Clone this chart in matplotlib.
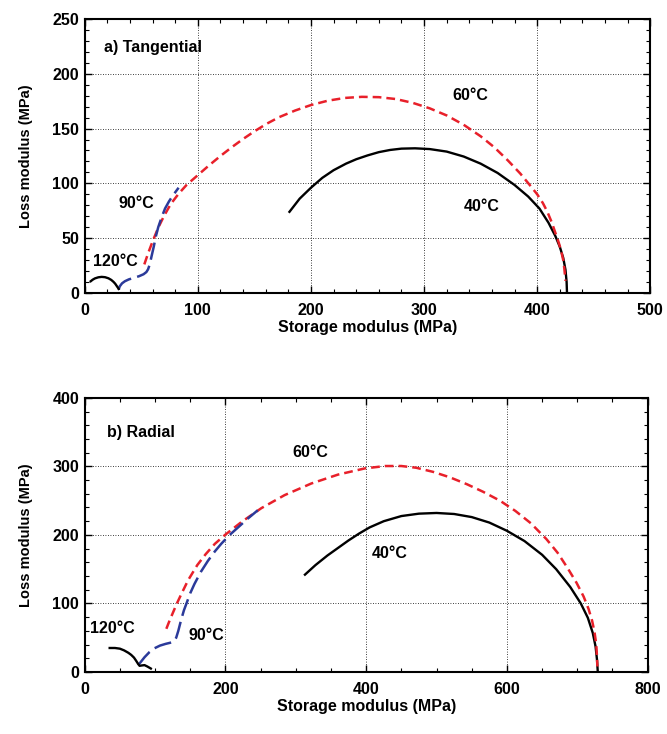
import matplotlib
matplotlib.use("Agg")
import matplotlib.pyplot as plt
from matplotlib.ticker import MultipleLocator

plt.rcParams['font.family'] = ['Liberation Sans', 'DejaVu Sans']
plt.rcParams['font.weight'] = 'bold'

# ---- Panel a) Tangential ----
a40_x = [181, 190, 200, 210, 220, 231, 240, 250, 260, 270, 280, 292, 305, 320, 335, 350, 365, 380, 392, 402, 410, 416, 420, 423, 425, 426, 426.3]
a40_y = [74, 86, 96, 105, 112, 118, 122, 125.5, 128.5, 130.5, 131.7, 132, 131.3, 129, 124.5, 118, 109.5, 98.5, 88, 77, 64, 52, 42, 32, 21, 10, 1]
a60_x = [52.7, 56, 60, 65, 70, 76, 83, 90, 100, 110, 120, 130, 140, 150, 161, 172, 186, 200, 215, 230, 245, 260, 275, 290, 305, 320, 335, 350, 362, 374, 385, 393, 400, 405, 409, 413, 416, 419, 421, 423, 424, 425]
a60_y = [26, 36, 47, 59.5, 70, 81, 90.5, 98.5, 107.5, 116.5, 125, 133, 140.5, 147.5, 154.5, 160.5, 166.5, 171.5, 175.5, 178, 179, 178.7, 177, 173.5, 168.5, 162, 153.5, 143, 133, 121, 109, 99, 90, 82, 74, 64, 55, 46, 39, 30, 22, 11]
a90_x = [30, 31, 33, 35.5, 39, 43, 48, 52, 54.5, 56, 57.5, 59, 61, 63, 65, 68, 71, 74.5, 78, 83]
a90_y = [3, 6, 8.7, 10.6, 12.3, 13.6, 15.2, 17, 19, 21.5, 26, 33, 42, 52, 60, 69, 77, 83.5, 89, 96]
a120_x = [5.3, 7, 9, 12, 15, 18, 21, 23.5, 25.5, 27, 28.5, 29.5, 30]
a120_y = [10.6, 12, 13.2, 14.2, 14.6, 14.3, 13.3, 11.8, 10, 8.3, 6, 4.5, 3.6]

# ---- Panel b) Radial ----
b40_x = [313, 328, 345, 360, 375, 390, 405, 425, 450, 475, 500, 525, 550, 575, 600, 625, 650, 670, 690, 705, 715, 722, 726, 728, 729]
b40_y = [142, 156, 170, 181, 192, 202, 211, 220, 227.5, 231, 232, 230.5, 226, 218, 206, 191, 171, 150, 124, 100, 79, 57, 37, 18, 2]
b60_x = [116, 121, 126, 131, 137, 147, 160, 172, 185, 200, 223, 251, 284, 322, 360, 398, 427, 450, 471, 495, 519, 543, 566, 590, 612, 634, 656, 672, 686, 699, 709, 716, 721, 724.5, 727, 728, 728.5]
b60_y = [63, 76, 88, 100, 113, 134, 156, 172, 187, 200.5, 219, 239, 258, 275, 288, 297, 300.5, 300.5, 298, 292, 284, 274, 263, 250, 235, 217, 194, 174, 152, 130, 110, 92, 75, 58, 40, 22, 8]
b90_x = [76, 80, 85, 92, 99, 107, 115, 123, 127, 130, 133, 137, 141, 145, 150, 156, 165, 175, 185, 194, 206, 218, 232, 246]
b90_y = [10, 15, 21.5, 29, 34.5, 38.5, 41, 43, 45, 50, 60, 76, 90, 101, 115, 128.5, 146, 162, 176, 187, 200, 211, 224, 236]
b120_x = [35.5, 43, 50, 56, 62, 66, 70, 73, 76, 78, 81, 85, 89, 94]
b120_y = [35, 35, 34, 31.5, 28, 25, 21, 16.5, 11.6, 9, 9.5, 10, 8, 5]

fig = plt.figure(figsize=(6.67, 7.34), dpi=100)
ax1 = fig.add_axes([0.127, 0.601, 0.848, 0.373])
ax2 = fig.add_axes([0.127, 0.0845, 0.844, 0.3735])

def style(ax, xmax, ymax, xmaj, xmin, ymaj, ymin):
    ax.set_xlim(0, xmax)
    ax.set_ylim(0, ymax)
    ax.xaxis.set_major_locator(MultipleLocator(xmaj))
    ax.xaxis.set_minor_locator(MultipleLocator(xmin))
    ax.yaxis.set_major_locator(MultipleLocator(ymaj))
    ax.yaxis.set_minor_locator(MultipleLocator(ymin))
    ax.tick_params(which='both', direction='in', top=True, right=True, labelsize=11.5)
    ax.tick_params(which='major', length=5, width=1)
    ax.tick_params(which='minor', length=3, width=0.8)
    ax.tick_params(axis='x', which='major', pad=7)
    ax.tick_params(axis='y', which='major', pad=4)
    ax.grid(True, which='major', color='black', linestyle=(0, (1, 2)), linewidth=0.6)
    for s in ax.spines.values():
        s.set_linewidth(1.5)
    for lab in ax.get_xticklabels() + ax.get_yticklabels():
        lab.set_fontweight('bold')
    ax.set_xlabel('Storage modulus (MPa)', fontsize=11.5, fontweight='bold', labelpad=2)
    ax.set_ylabel('Loss modulus (MPa)', fontsize=10.5, fontweight='bold', labelpad=14)

red = '#e8202a'
blue = '#2b3a9a'
fs = 11.5

style(ax1, 500, 250, 100, 20, 50, 10)
ax1.plot(a40_x, a40_y, color='black', lw=1.7)
ax1.plot(a60_x, a60_y, color=red, lw=1.8, linestyle=(0, (3.5, 2)))
ax1.plot(a90_x, a90_y, color=blue, lw=1.8, linestyle=(0, (7, 2.5)))
ax1.plot(a120_x, a120_y, color='black', lw=1.7)
ax1.text(17, 224, 'a) Tangential', fontsize=fs, fontweight='bold', va='center')
ax1.text(341, 180, '60°C', fontsize=fs, fontweight='bold', ha='center', va='center')
ax1.text(351, 79, '40°C', fontsize=fs, fontweight='bold', ha='center', va='center')
ax1.text(46, 82, '90°C', fontsize=fs, fontweight='bold', ha='center', va='center')
ax1.text(27, 29, '120°C', fontsize=fs, fontweight='bold', ha='center', va='center')

style(ax2, 800, 400, 200, 50, 100, 20)
ax2.plot(b40_x, b40_y, color='black', lw=1.7)
ax2.plot(b60_x, b60_y, color=red, lw=1.8, linestyle=(0, (3.5, 2)))
ax2.plot(b90_x, b90_y, color=blue, lw=1.8, linestyle=(0, (7, 2.5)))
ax2.plot(b120_x, b120_y, color='black', lw=1.7)
ax2.text(31, 349, 'b) Radial', fontsize=fs, fontweight='bold', va='center')
ax2.text(320, 320, '60°C', fontsize=fs, fontweight='bold', ha='center', va='center')
ax2.text(434, 173, '40°C', fontsize=fs, fontweight='bold', ha='center', va='center')
ax2.text(173, 53, '90°C', fontsize=fs, fontweight='bold', ha='center', va='center')
ax2.text(40, 63, '120°C', fontsize=fs, fontweight='bold', ha='center', va='center')

fig.savefig('out.png', dpi=100)
